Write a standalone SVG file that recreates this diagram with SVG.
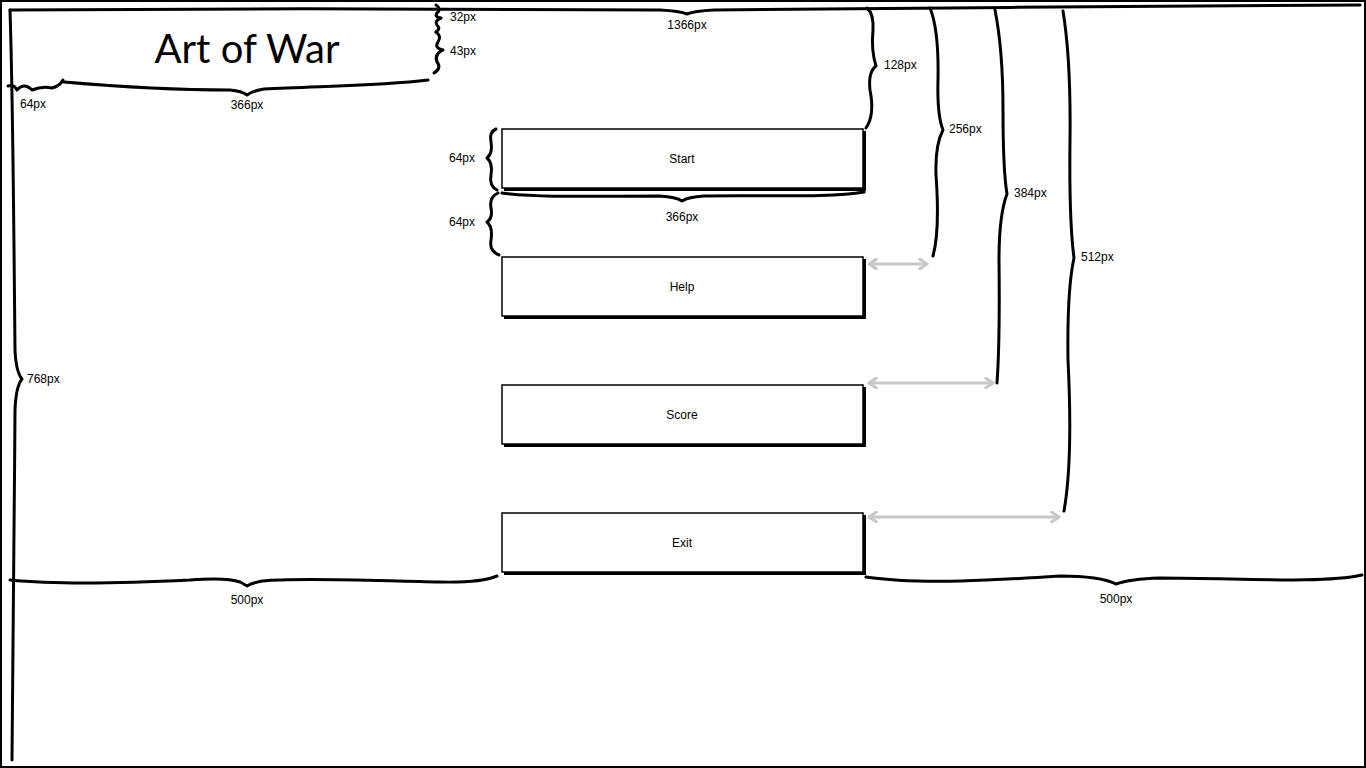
<svg xmlns="http://www.w3.org/2000/svg" width="1366" height="768" viewBox="0 0 1366 768">
<style>
.br{fill:none;stroke:#000;stroke-width:3;stroke-linecap:round;stroke-linejoin:round}
.lbl{font-family:"Liberation Sans",Arial,sans-serif;font-size:12px;fill:#000}
.mid{text-anchor:middle}
.btn{fill:#fff;stroke:#000;stroke-width:1.5}
.sh{fill:#000}
.btxt{font-family:"Liberation Sans",Arial,sans-serif;font-size:12px;text-anchor:middle;fill:#000}
.gap{fill:none;stroke:#c8c8c8;stroke-width:3;marker-start:url(#ah);marker-end:url(#ah)}
</style>
<defs>
<marker id="ah" viewBox="0 0 10 10" refX="8" refY="5" markerWidth="4" markerHeight="4" orient="auto-start-reverse" markerUnits="strokeWidth">
<path d="M2,1 L8,5 L2,9" fill="none" stroke="#c8c8c8" stroke-width="2.6" stroke-linecap="round" stroke-linejoin="round"/>
</marker>
</defs>
<rect x="0" y="0" width="1366" height="768" fill="#fff"/>
<rect x="1" y="1" width="1364" height="766" fill="none" stroke="#000" stroke-width="2"/>

<g id="title">
<text x="247" y="63" font-family="Lato,'Liberation Sans',sans-serif" font-size="40" text-anchor="middle" fill="#000">Art of War</text>
</g>

<g id="btn-start">
<rect x="504" y="131" width="362" height="60" class="sh"/>
<rect x="502" y="129" width="361" height="59" class="btn"/>
<text x="682" y="163" class="btxt">Start</text>
</g>
<g id="btn-help">
<rect x="504" y="259" width="362" height="60" class="sh"/>
<rect x="502" y="257" width="361" height="59" class="btn"/>
<text x="682" y="291" class="btxt">Help</text>
</g>
<g id="btn-score">
<rect x="504" y="387" width="362" height="60" class="sh"/>
<rect x="502" y="385" width="361" height="59" class="btn"/>
<text x="682" y="419" class="btxt">Score</text>
</g>
<g id="btn-exit">
<rect x="504" y="515" width="362" height="60" class="sh"/>
<rect x="502" y="513" width="361" height="59" class="btn"/>
<text x="682" y="547" class="btxt">Exit</text>
</g>

<g id="dimensions">
<path class="br" d="M10,10 C200,8 500,9 660,10 Q680,11 687,14 Q694,11 714,10 C900,8 1200,6 1360,5"/>
<text x="687" y="29" class="lbl mid">1366px</text>
<path class="br" d="M10,10 C13,100 14,250 15,350 Q16,372 22,379 Q16,386 15,410 C14,550 13,700 12,760"/>
<text x="27" y="383" class="lbl">768px</text>
<path class="br" d="M8,86 Q14,84 17,90 Q24,82 32,90 Q42,86 52,88 Q60,86 63,80"/>
<text x="20" y="108" class="lbl">64px</text>
<path class="br" d="M64,82 C110,86 180,90 230,90 Q242,91 247,95 Q252,91 264,89 C320,86 380,86 428,80"/>
<text x="247" y="109" class="lbl mid">366px</text>
<path class="br" d="M436,5 Q442,9 437,13 Q434,17 441,18 Q434,21 437,25 Q441,29 436,32"/>
<text x="450" y="21" class="lbl">32px</text>
<path class="br" d="M436,32 Q442,36 438,42 Q434,48 443,50 Q434,54 437,62 Q442,68 434,73"/>
<text x="450" y="55" class="lbl">43px</text>
<path class="br" d="M496,129 Q489,132 491,142 Q493,153 487,158 Q493,163 491,175 Q489,186 497,190"/>
<text x="449" y="162" class="lbl">64px</text>
<path class="br" d="M498,193 Q489,197 491,208 Q493,218 487,222 Q493,227 491,240 Q489,251 499,255"/>
<text x="449" y="226" class="lbl">64px</text>
<path class="br" d="M502,193 C540,198 600,196 660,196 Q676,197 682,201 Q688,197 704,196 C770,195 830,198 864,192"/>
<text x="682" y="221" class="lbl mid">366px</text>
<path class="br" d="M867,8 Q874,14 873,30 Q871,50 876,66 Q868,72 870,90 Q875,115 866,128"/>
<text x="884" y="69" class="lbl">128px</text>
<path class="br" d="M930,8 Q939,30 938,80 Q937,115 943,130 Q935,145 936,175 Q940,230 933,256"/>
<text x="949" y="133" class="lbl">256px</text>
<path class="br" d="M995,10 Q1003,50 1003,110 Q1003,170 1007,194 Q999,215 999,260 Q1000,340 997,383"/>
<text x="1014" y="197" class="lbl">384px</text>
<path class="br" d="M1063,11 Q1071,60 1070,140 Q1069,220 1074,258 Q1067,290 1068,360 Q1073,460 1064,511"/>
<text x="1081" y="261" class="lbl">512px</text>
<path class="br" d="M10,580 C60,585 130,583 190,580 C215,578 232,579 240,582 Q246,585 247,586 Q252,583 262,581 C300,577 380,581 440,582 Q480,583 497,576"/>
<text x="247" y="604" class="lbl mid">500px</text>
<path class="br" d="M866,577 C920,585 1000,580 1060,576 Q1100,576 1116,584 Q1130,579 1160,578 C1240,578 1320,584 1362,575"/>
<text x="1116" y="603" class="lbl mid">500px</text>
</g>

<g id="connectors">
<line class="gap" x1="869" y1="264" x2="927" y2="264"/>
<line class="gap" x1="869" y1="383" x2="993" y2="383"/>
<line class="gap" x1="869" y1="517" x2="1059" y2="517"/>
</g>
</svg>
